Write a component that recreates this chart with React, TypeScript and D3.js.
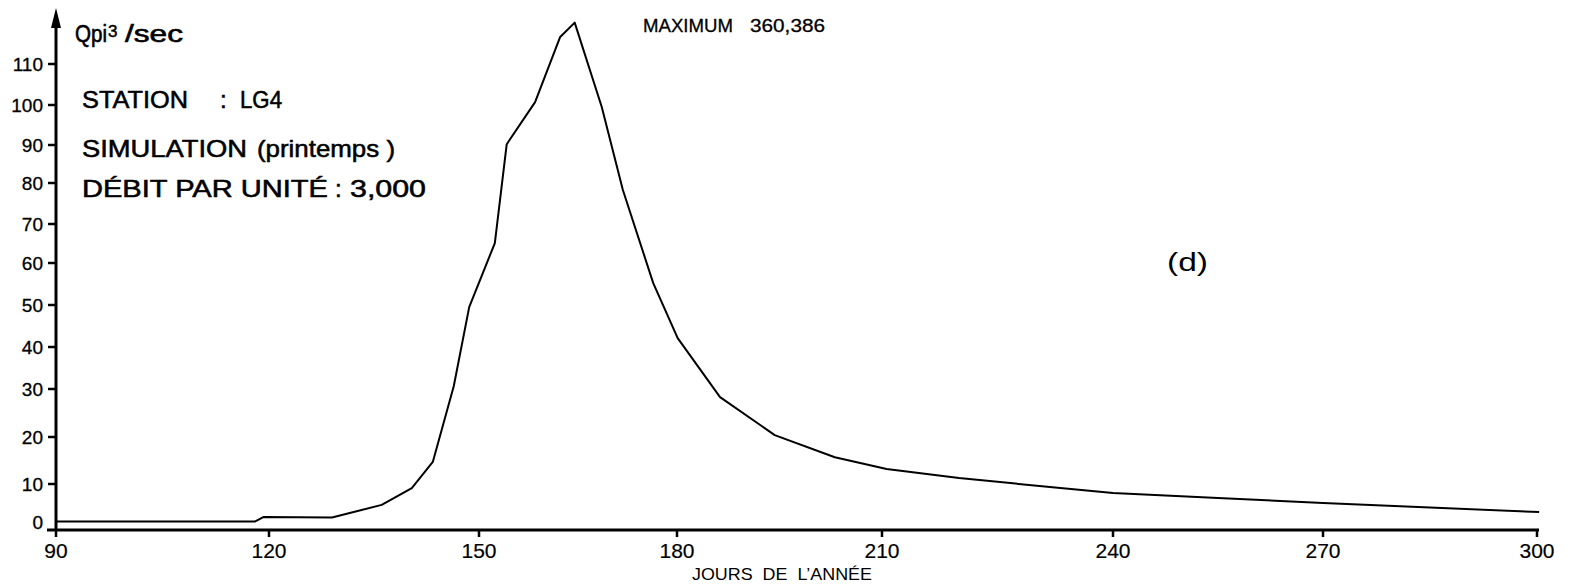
import React from "react";
import * as d3 from "d3";

// Tick labels
const xTickValues = [90, 120, 150, 180, 210, 240, 270, 300];
const yTickValues = [0, 10, 20, 30, 40, 50, 60, 70, 80, 90, 100, 110];

// Hydrograph (jour de l'année, débit en Qpi3/sec / 3,000 par unité)
const days = [
  90, 118, 119.2, 129, 136.1, 140.4, 143.4, 146.4, 148.6, 152.4, 154.2, 158.5,
  162.3, 164.5, 168.6, 171.8, 176.4, 180.1, 186.3, 194.3, 203.1, 210.6, 220,
  231.8, 240, 255, 270, 285, 300.3,
];
const flows = [
  0.1, 0.1, 1.3, 1.2, 4.5, 8.9, 14.7, 30.7, 49.5, 65.1, 90.2, 100.7, 116.6,
  120.1, 99.5, 78.3, 55.2, 42.1, 28.3, 20.4, 15.7, 13.2, 11.3, 9.2, 7.6, 6.3,
  5.0, 3.8, 2.6,
];

const FONT = "'Liberation Sans', Arial, sans-serif";

export default function App() {
  const W = 1569;
  const H = 586;

  // Hand-drawn axes: piecewise linear scales following the tick marks of the original
  const x = d3
    .scaleLinear()
    .domain(xTickValues)
    .range([56, 269, 479, 677, 882, 1113, 1323, 1537]);
  const y = d3
    .scaleLinear()
    .domain(yTickValues)
    .range([522, 484, 437, 389, 347, 305, 263, 224, 183, 145, 105, 64]);

  const data = days.map((d, i) => [d, flows[i]] as [number, number]);
  const line = d3
    .line<[number, number]>()
    .x((d) => x(d[0]))
    .y((d) => y(d[1]))
    .curve(d3.curveLinear);

  const axisY = 530;
  const axisX = 56;

  const big = {
    fontFamily: FONT,
    fontSize: 24,
    fill: "#000",
    stroke: "#000",
    strokeWidth: 0.55,
  } as const;

  return (
    <svg
      width={W}
      height={H}
      viewBox={`0 0 ${W} ${H}`}
      style={{ position: "absolute", left: 0, top: 0, background: "#fff" }}
    >
      <rect x={0} y={0} width={W} height={H} fill="#fff" />

      {/* Y axis with arrow */}
      <line x1={axisX} y1={axisY + 1} x2={axisX} y2={24} stroke="#000" strokeWidth={3} />
      <polygon points={`${axisX},8 ${axisX - 5},28 ${axisX + 5},28`} fill="#000" />
      {yTickValues
        .filter((v) => v > 0)
        .map((v) => (
          <line key={"yt" + v} x1={axisX - 8} x2={axisX} y1={y(v)} y2={y(v)} stroke="#000" strokeWidth={2.5} />
        ))}
      {yTickValues.map((v) => (
        <text
          key={"yl" + v}
          x={43}
          y={y(v) + 7}
          textAnchor="end"
          fontFamily={FONT}
          fontSize={19}
          fill="#000"
          stroke="#000"
          strokeWidth={0.3}
        >
          {v}
        </text>
      ))}

      {/* X axis */}
      <line x1={47} x2={x(300) + 2} y1={axisY} y2={axisY} stroke="#000" strokeWidth={3} />
      {xTickValues.map((v) => (
        <line key={"xt" + v} x1={x(v)} x2={x(v)} y1={axisY} y2={axisY + 7} stroke="#000" strokeWidth={2.5} />
      ))}
      {xTickValues.map((v) => (
        <text
          key={"xl" + v}
          x={x(v)}
          y={558}
          textAnchor="middle"
          fontFamily={FONT}
          fontSize={21}
          fill="#000"
          stroke="#000"
          strokeWidth={0.2}
        >
          {v}
        </text>
      ))}
      <text
        x={692}
        y={580}
        fontFamily={FONT}
        fontSize={17}
        textLength={180}
        lengthAdjust="spacingAndGlyphs"
        fill="#000"
        style={{ whiteSpace: "pre" }}
      >
        {"JOURS  DE  L’ANNÉE"}
      </text>

      {/* Curve */}
      <path d={line(data) || ""} fill="none" stroke="#000" strokeWidth={2} strokeLinejoin="round" />

      {/* Annotations */}
      <text x={75} y={42} fontFamily={FONT} fontSize={23} fill="#000" stroke="#000" strokeWidth={0.6} textLength={32} lengthAdjust="spacingAndGlyphs">
        Qpi
      </text>
      <text x={108} y={37} fontFamily={FONT} fontSize={17} fill="#000" stroke="#000" strokeWidth={0.5}>
        3
      </text>
      <text x={125} y={42} fontFamily={FONT} fontSize={23} fill="#000" stroke="#000" strokeWidth={0.6} textLength={58} lengthAdjust="spacingAndGlyphs">
        /sec
      </text>

      <text x={82} y={108} {...big} textLength={106} lengthAdjust="spacingAndGlyphs">
        STATION
      </text>
      <text x={220} y={108} {...big}>:</text>
      <text x={240} y={108} {...big} textLength={42} lengthAdjust="spacingAndGlyphs">
        LG4
      </text>

      <text x={82} y={157} {...big} textLength={165} lengthAdjust="spacingAndGlyphs">
        SIMULATION
      </text>
      <text x={257} y={157} {...big} textLength={138} lengthAdjust="spacingAndGlyphs">
        (printemps )
      </text>

      <text x={82} y={197} {...big} textLength={246} lengthAdjust="spacingAndGlyphs">
        DÉBIT PAR UNITÉ
      </text>
      <text x={335} y={197} {...big}>:</text>
      <text x={350} y={197} {...big} textLength={76} lengthAdjust="spacingAndGlyphs">
        3,000
      </text>

      <text x={643} y={32} fontFamily={FONT} fontSize={19} fill="#000" stroke="#000" strokeWidth={0.3} textLength={90} lengthAdjust="spacingAndGlyphs">
        MAXIMUM
      </text>
      <text x={750} y={32} fontFamily={FONT} fontSize={19} fill="#000" stroke="#000" strokeWidth={0.3} textLength={75} lengthAdjust="spacingAndGlyphs">
        360,386
      </text>

      <text x={1167} y={271} fontFamily={FONT} fontSize={26} fill="#000" textLength={41} lengthAdjust="spacingAndGlyphs">
        (d)
      </text>
    </svg>
  );
}
